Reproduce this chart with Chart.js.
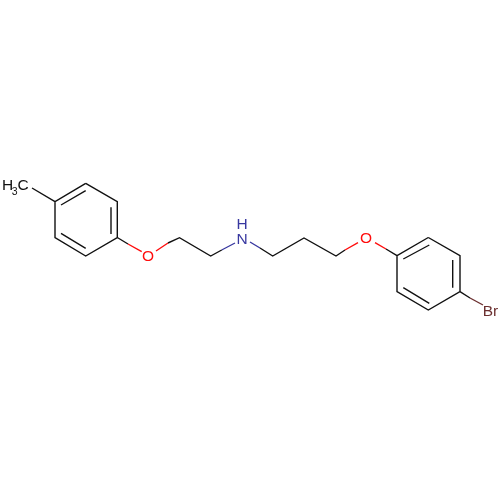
<!DOCTYPE html>
<html>
<head>
<meta charset="utf-8">
<script src="https://cdn.jsdelivr.net/npm/chart.js@4"></script>
<style>
  html, body { margin: 0; padding: 0; background: #fff; }
  canvas { display: block; }
</style>
</head>
<body>
<canvas id="molecule" width="500" height="500"></canvas>
<script>
// bond chains, as [x, y] points
const blackChains = [
  [[32, 188], [55, 201.7]],
  [[85.7, 183.3], [117.3, 201.7], [117.3, 237.5], [85.7, 256], [55, 237.5], [55, 201.7], [85.7, 183.3]],
  [[117.3, 237.5], [128, 244]],
  [[168, 243], [179.5, 237.7], [210.7, 256], [221.7, 250]],
  [[260, 248], [272.7, 256], [304, 238], [336, 256], [345, 250]],
  [[386, 249], [397, 255.7]],
  [[428.3, 237.5], [460, 255.7], [460, 291.7], [428.3, 310], [397, 291.7], [397, 255.7], [428.3, 237.5]],
  [[460, 291.7], [470, 298]]
];
const innerBonds = [
  [[61, 205], [85.7, 190.7]],
  [[111, 207.3], [111, 234]],
  [[61, 233.3], [85.7, 248.3]],
  [[403.3, 259], [429.3, 245]],
  [[452.7, 260], [452.7, 287.7]],
  [[403.3, 287.7], [429.3, 303.3]]
];
const redBonds = [
  [[128, 244], [141.7, 251.7]],
  [[156, 251], [168, 243]],
  [[345, 250], [358, 242.7]],
  [[375, 242.7], [386, 249]]
];
const blueBonds = [
  [[221.7, 250], [235, 243]],
  [[250, 242], [260, 248]]
];
const brownBonds = [
  [[470, 298], [483, 305]]
];

const atomNames = ['O', 'O', 'N', 'H', 'Br'];
const atomX = [148, 366, 242, 242, 490.5];
const atomY = [256.5, 238.5, 239.5, 225, 311.8];
const atomColors = ['#ff0d0d', '#ff0d0d', '#3838a0', '#3838a0', '#6b2f2f'];

// turn chains into one line with gaps between them
function toPoints(chains) {
  const pts = [];
  chains.forEach(chain => {
    chain.forEach(p => pts.push({ x: p[0], y: p[1] }));
    pts.push({ x: null, y: null });
  });
  return pts;
}

function bondDataset(chains, color) {
  return {
    data: toPoints(chains),
    showLine: true,
    spanGaps: false,
    borderColor: color,
    borderWidth: 1.4,
    borderJoinStyle: 'miter',
    pointRadius: 0,
    tension: 0
  };
}

// atom labels go through the same scales as the bonds
const atomLabels = {
  id: 'atomLabels',
  afterDatasetsDraw(chart) {
    const { ctx, scales: { x, y } } = chart;
    ctx.save();
    ctx.textAlign = 'center';
    ctx.textBaseline = 'middle';
    ctx.font = '15.5px "Liberation Sans"';
    atomNames.forEach((name, i) => {
      ctx.fillStyle = atomColors[i];
      ctx.fillText(name, x.getPixelForValue(atomX[i]), y.getPixelForValue(atomY[i]));
    });
    ctx.fillStyle = '#111';
    ctx.fillText('H', x.getPixelForValue(7.5), y.getPixelForValue(186));
    ctx.fillText('C', x.getPixelForValue(23), y.getPixelForValue(186));
    ctx.font = '10.5px "Liberation Sans"';
    ctx.fillText('3', x.getPixelForValue(14.7), y.getPixelForValue(192.5));
    ctx.restore();
  }
};

new Chart(document.getElementById('molecule').getContext('2d'), {
  type: 'scatter',
  data: {
    datasets: [
      bondDataset(blackChains, '#111'),
      bondDataset(innerBonds, '#111'),
      bondDataset(redBonds, '#ff0d0d'),
      bondDataset(blueBonds, '#3838a0'),
      bondDataset(brownBonds, '#6b2f2f')
    ]
  },
  options: {
    responsive: false,
    devicePixelRatio: 1,
    animation: false,
    layout: { padding: 0 },
    plugins: { legend: { display: false }, tooltip: { enabled: false } },
    scales: {
      x: { type: 'linear', min: 0, max: 500, display: false },
      y: { type: 'linear', min: 0, max: 500, reverse: true, display: false }
    }
  },
  plugins: [atomLabels]
});
</script>
</body>
</html>
